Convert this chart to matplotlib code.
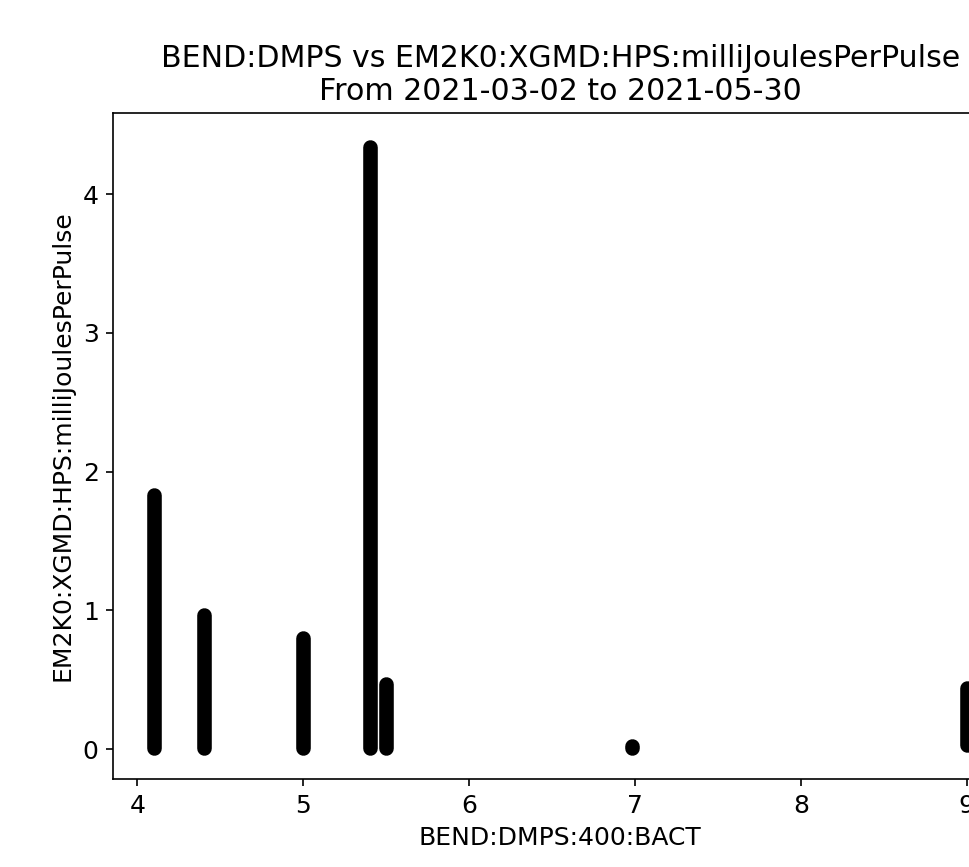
import matplotlib
matplotlib.use("Agg")
import matplotlib.pyplot as plt

# BEND:DMPS:400:BACT setpoints and the span of pulse energies seen at each
bend_values = [4.1, 4.4, 5.0, 5.4, 5.5, 6.98, 9.0]
energy_min = [0.005, 0.005, 0.005, 0.005, 0.005, 0.010, 0.030]
energy_max = [1.83, 0.97, 0.80, 4.34, 0.47, 0.025, 0.44]

title_text = "BEND:DMPS vs EM2K0:XGMD:HPS:milliJoulesPerPulse\nFrom 2021-03-02 to 2021-05-30"
x_label = "BEND:DMPS:400:BACT"
y_label = "EM2K0:XGMD:HPS:milliJoulesPerPulse"

plt.rcParams["font.size"] = 12

W, H, DPI = 969, 867, 150
fig = plt.figure(figsize=(W / DPI, H / DPI), dpi=DPI)
# axes runs past the right edge of the picture, as in the reference
ax = fig.add_axes([113.3 / W, (H - 779) / H, 894 / W, 666 / H])

# each column is thousands of overlapping points: draw as a rounded stroke
for x, lo, hi in zip(bend_values, energy_min, energy_max):
    ax.plot([x, x], [lo, hi], color="black", linewidth=7,
            solid_capstyle="round")

ax.set_xlim(3.855, 9.245)
ax.set_ylim(-0.215, 4.584)
ax.set_xticks([4, 5, 6, 7, 8, 9])
ax.set_yticks([0, 1, 2, 3, 4])

ax.set_title(title_text)
ax.set_xlabel(x_label)
ax.set_ylabel(y_label)

fig.savefig("out.png", dpi=DPI)
